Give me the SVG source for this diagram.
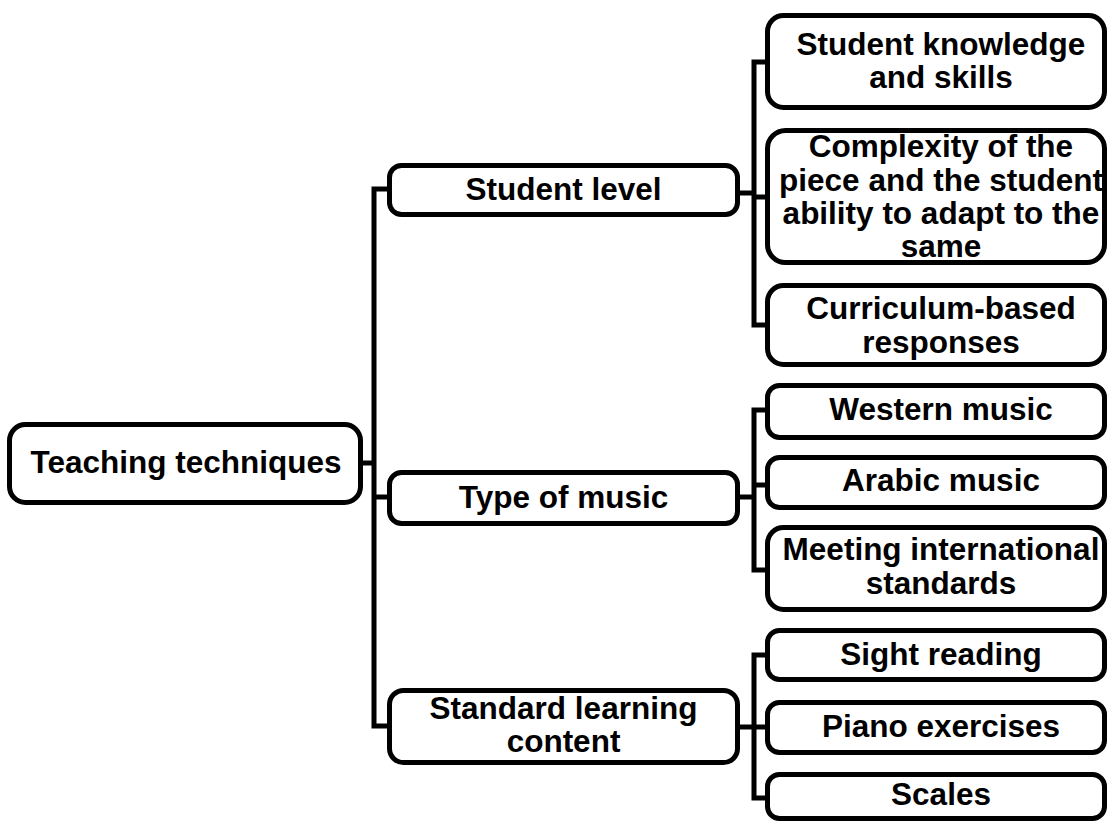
<svg xmlns="http://www.w3.org/2000/svg" width="1109" height="823" viewBox="0 0 1109 823">
  <style>
    .box { fill: #ffffff; stroke: #000000; stroke-width: 5; }
    .wire { fill: none; stroke: #000000; stroke-width: 5; stroke-linejoin: miter; }
    .label { font-family: "Liberation Sans", Arial, sans-serif; font-weight: bold; font-size: 31.5px; fill: #000000; text-anchor: middle; }
  </style>
  <rect width="1109" height="823" fill="#ffffff"/>

  <!-- tree connectors -->
  <g id="connectors" class="wire">
    <!-- root to first level -->
    <path d="M363,463 H374"/>
    <path d="M387,189 H374 V726 H387"/>
    <path d="M374,497 H387"/>
    <!-- Student level branches -->
    <path d="M740,193 H754"/>
    <path d="M765,62 H754 V325 H765"/>
    <path d="M754,197 H765"/>
    <!-- Type of music branches -->
    <path d="M740,497 H754"/>
    <path d="M765,410 H754 V570 H765"/>
    <path d="M754,485 H765"/>
    <!-- Standard learning content branches -->
    <path d="M740,727 H754"/>
    <path d="M765,655 H754 V798 H765"/>
    <path d="M754,727 H765"/>
  </g>

  <g id="teaching-techniques">
    <rect class="box" x="9.5" y="424.5" width="351" height="78" rx="16"/>
    <text class="label" x="186" y="473">Teaching techniques</text>
  </g>

  <g id="student-level">
    <rect class="box" x="389.5" y="165.5" width="348" height="49" rx="12"/>
    <text class="label" x="563.5" y="200">Student level</text>
  </g>
  <g id="type-of-music">
    <rect class="box" x="389.5" y="472.5" width="348" height="51" rx="12"/>
    <text class="label" x="563.5" y="508">Type of music</text>
  </g>
  <g id="standard-learning-content">
    <rect class="box" x="389.5" y="690.5" width="348" height="72" rx="14"/>
    <text class="label" x="563.5" y="719">Standard learning</text>
    <text class="label" x="563.5" y="752">content</text>
  </g>

  <g id="student-knowledge">
    <rect class="box" x="767.5" y="15.5" width="337" height="92" rx="16"/>
    <text class="label" x="941" y="55">Student knowledge</text>
    <text class="label" x="941" y="88">and skills</text>
  </g>
  <g id="complexity">
    <rect class="box" x="767.5" y="130.5" width="337" height="132" rx="18"/>
    <text class="label" x="941" y="157">Complexity of the</text>
    <text class="label" x="941" y="191">piece and the student</text>
    <text class="label" x="941" y="224">ability to adapt to the</text>
    <text class="label" x="941" y="257">same</text>
  </g>
  <g id="curriculum-based">
    <rect class="box" x="767.5" y="285.5" width="337" height="79" rx="16"/>
    <text class="label" x="941" y="319">Curriculum-based</text>
    <text class="label" x="941" y="353">responses</text>
  </g>

  <g id="western-music">
    <rect class="box" x="767.5" y="385.5" width="337" height="52" rx="12"/>
    <text class="label" x="941" y="420">Western music</text>
  </g>
  <g id="arabic-music">
    <rect class="box" x="767.5" y="457.5" width="337" height="50" rx="12"/>
    <text class="label" x="941" y="491">Arabic music</text>
  </g>
  <g id="international-standards">
    <rect class="box" x="767.5" y="527.5" width="337" height="82" rx="16"/>
    <text class="label" x="941" y="560">Meeting international</text>
    <text class="label" x="941" y="594">standards</text>
  </g>

  <g id="sight-reading">
    <rect class="box" x="767.5" y="630.5" width="337" height="49" rx="12"/>
    <text class="label" x="941" y="665">Sight reading</text>
  </g>
  <g id="piano-exercises">
    <rect class="box" x="767.5" y="702.5" width="337" height="50" rx="12"/>
    <text class="label" x="941" y="737">Piano exercises</text>
  </g>
  <g id="scales">
    <rect class="box" x="767.5" y="774.5" width="337" height="44" rx="12"/>
    <text class="label" x="941" y="805">Scales</text>
  </g>
</svg>
